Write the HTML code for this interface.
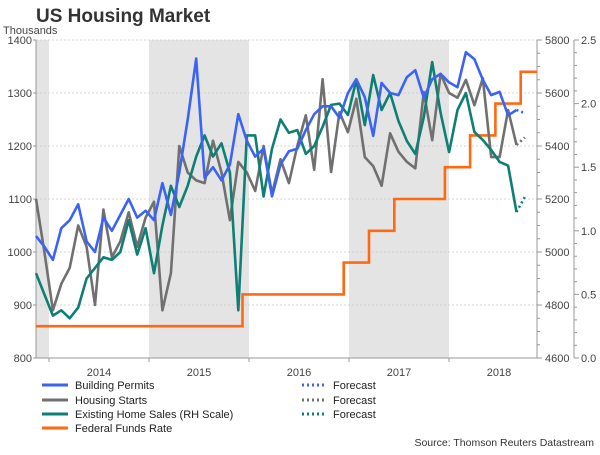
<!DOCTYPE html>
<html><head><meta charset="utf-8"><style>
body{margin:0;background:#fff;width:600px;height:450px;overflow:hidden;font-family:"Liberation Sans",sans-serif}
svg text{font-family:"Liberation Sans",sans-serif}
</style></head><body>
<svg id="chart" width="600" height="450">
<text x="36" y="22" font-size="19" font-weight="bold" fill="#333">US Housing Market</text>
<text x="3" y="34" font-size="11" fill="#444">Thousands</text>
<g id="plot"></g>
<g font-size="11" fill="#222">
<line x1="42" y1="385" x2="68" y2="385" stroke="#3b63f5" stroke-width="3"/>
<text x="75" y="389">Building Permits</text>
<line x1="42" y1="400" x2="68" y2="400" stroke="#707070" stroke-width="3"/>
<text x="75" y="404">Housing Starts</text>
<line x1="42" y1="414" x2="68" y2="414" stroke="#0e7f74" stroke-width="3"/>
<text x="75" y="418">Existing Home Sales (RH Scale)</text>
<line x1="42" y1="428" x2="68" y2="428" stroke="#ff6a10" stroke-width="3"/>
<text x="75" y="432">Federal Funds Rate</text>
<line x1="302" y1="385" x2="326" y2="385" stroke="#3b63f5" stroke-width="3" stroke-dasharray="2,3"/>
<text x="333" y="389">Forecast</text>
<line x1="302" y1="400" x2="326" y2="400" stroke="#707070" stroke-width="3" stroke-dasharray="2,3"/>
<text x="333" y="404">Forecast</text>
<line x1="302" y1="414" x2="326" y2="414" stroke="#0e7f74" stroke-width="3" stroke-dasharray="2,3"/>
<text x="333" y="418">Forecast</text>
</g>
<text x="594" y="446" font-size="10.5" fill="#333" text-anchor="end">Source: Thomson Reuters Datastream</text>
</svg>
<script>
const years=["2014","2015","2016","2017","2018"];
const leftTicks=[800,900,1000,1100,1200,1300,1400];
const rightTicks=[4600,4800,5000,5200,5400,5600,5800];
const rateTicks=[0,0.5,1,1.5,2,2.5];
const permits=[1030,1010,985,1045,1060,1090,1020,1000,1065,1040,1070,1100,1065,1078,1060,1130,1070,1150,1250,1365,1140,1160,1135,1165,1260,1210,1180,1195,1105,1165,1190,1195,1230,1260,1275,1275,1253,1300,1326,1292,1219,1319,1300,1296,1330,1343,1291,1326,1336,1320,1311,1377,1364,1325,1296,1302,1258,1268];
const permitsForecast=[1268,1262];
const starts=[1100,1000,890,940,970,1050,1010,900,1080,990,1020,1075,1010,1065,1095,890,960,1200,1150,1135,1130,1210,1150,1060,1170,1150,1115,1200,1110,1175,1130,1200,1258,1155,1326,1151,1264,1226,1289,1179,1162,1125,1224,1189,1170,1158,1302,1211,1336,1300,1291,1325,1277,1328,1179,1179,1268,1202];
const startsForecast=[1202,1216];
const sales=[4920,4840,4760,4780,4750,4790,4900,4940,4980,4970,5000,5120,4990,5090,4920,5100,5250,5170,5250,5360,5440,5360,5410,5300,4780,5440,5440,5210,5390,5500,5450,5460,5370,5400,5472,5555,5560,5517,5649,5479,5668,5536,5600,5494,5419,5370,5509,5717,5525,5377,5536,5600,5453,5423,5385,5340,5326,5151];
const salesForecast=[5151,5208];
const fedRate=[0.25,0.25,0.25,0.25,0.25,0.25,0.25,0.25,0.25,0.25,0.25,0.25,0.25,0.25,0.25,0.25,0.25,0.25,0.25,0.25,0.25,0.25,0.25,0.25,0.25,0.5,0.5,0.5,0.5,0.5,0.5,0.5,0.5,0.5,0.5,0.5,0.5,0.75,0.75,0.75,1,1,1,1.25,1.25,1.25,1.25,1.25,1.25,1.5,1.5,1.5,1.75,1.75,1.75,2,2,2,2.25,2.25];
const shadeYears=[1,3];

const NS="http://www.w3.org/2000/svg";
const L=36,R=537,T=40,B=358,STEP=8.43;
const xm=i=>L+i*STEP;
const yL=v=>B-(v-800)/600*(B-T);
const yR=v=>B-(v-4600)/1200*(B-T);
const yF=v=>B-v/2.5*(B-T);
const yearX=k=>49+k*100;
const g=document.getElementById('plot');
function mk(tag,attrs,parent){const e=document.createElementNS(NS,tag);for(const k in attrs)e.setAttribute(k,attrs[k]);(parent||g).appendChild(e);return e;}

let s0=mk('rect',{x:L,y:T,width:yearX(0)-L,height:B-T,fill:'#e4e4e4'});


shadeYears.forEach(k=>{const r=mk('rect',{x:yearX(k),y:T,width:100,height:B-T,fill:'#e4e4e4'});

});
leftTicks.forEach(v=>{
 if(v>800){const gl=mk('line',{x1:L,x2:R,y1:yL(v),y2:yL(v),stroke:'#c8c8c8','stroke-width':0.7,'stroke-dasharray':'2,2'});
 
 }
 const t=mk('text',{x:L-4,y:yL(v)+4,'font-size':11,fill:'#444','text-anchor':'end'});t.textContent=v;
 
 
 mk('line',{x1:L-3,x2:L,y1:yL(v),y2:yL(v),stroke:'#999'});
});
rightTicks.forEach(v=>{
 const t=mk('text',{x:R+8,y:yR(v)+4,'font-size':11,fill:'#444'});t.textContent=v;
 
 
 mk('line',{x1:R,x2:R+5,y1:yR(v),y2:yR(v),stroke:'#999'});
});
for(let r=0;r<=25;r++){const v=r/10;mk('line',{x1:574,x2:574+(r%5==0?5:3),y1:yF(v),y2:yF(v),stroke:'#999'});}
rateTicks.forEach(v=>{
 const t=mk('text',{x:581,y:yF(v)+4,'font-size':11,fill:'#444'});t.textContent=v.toFixed(1);
 
 
});
for(let r=0;r<=24;r++){const v=4600+r*50;if(v%200)mk('line',{x1:R,x2:R+3,y1:yR(v),y2:yR(v),stroke:'#999'});}
let a1=mk('line',{x1:L,x2:L,y1:T,y2:B,stroke:'#999'});
let a2=mk('line',{x1:L,x2:R,y1:B,y2:B,stroke:'#999'});
let a3=mk('line',{x1:R,x2:R,y1:T,y2:B,stroke:'#999'});
let a4=mk('line',{x1:574,x2:574,y1:T,y2:B,stroke:'#999'});
years.forEach((y,k)=>{
 mk('line',{x1:yearX(k),x2:yearX(k),y1:B,y2:B+4,stroke:'#999'});
 const t=mk('text',{x:yearX(k)+50,y:B+18,'font-size':11,fill:'#444','text-anchor':'middle'});t.textContent=y;
 
 
});
function line(vals,yf,color,off,dash){
 const pts=vals.map((v,i)=>xm(i+off).toFixed(1)+','+yf(v).toFixed(1)).join(' ');
 const a={points:pts,fill:'none',stroke:color,'stroke-width':2.6,'stroke-linejoin':'round'};
 if(dash)a['stroke-dasharray']='2,3';
 return mk('polyline',a);
}
let d='';fedRate.forEach((v,i)=>{const x=i==0?L:xm(i-0.5);d+=(i==0?'M':'L')+x.toFixed(1)+','+yF(v).toFixed(1)+' ';if(i<fedRate.length-1)d+='L'+xm(i+0.5).toFixed(1)+','+yF(v).toFixed(1)+' ';});
d+='L'+R+','+yF(fedRate[fedRate.length-1]).toFixed(1);
let fp=mk('path',{d:d,fill:'none',stroke:'#ff6a10','stroke-width':2.6});


let l1=line(starts,yL,'#707070',0);
let l2=line(sales,yR,'#0e7f74',0);
let l3=line(permits,yL,'#3b63f5',0);
let f1=line(permitsForecast,yL,'#3b63f5',57,1);
let f2=line(startsForecast,yL,'#707070',57,1);
let f3=line(salesForecast,yR,'#0e7f74',57,1);
</script>
</body></html>
